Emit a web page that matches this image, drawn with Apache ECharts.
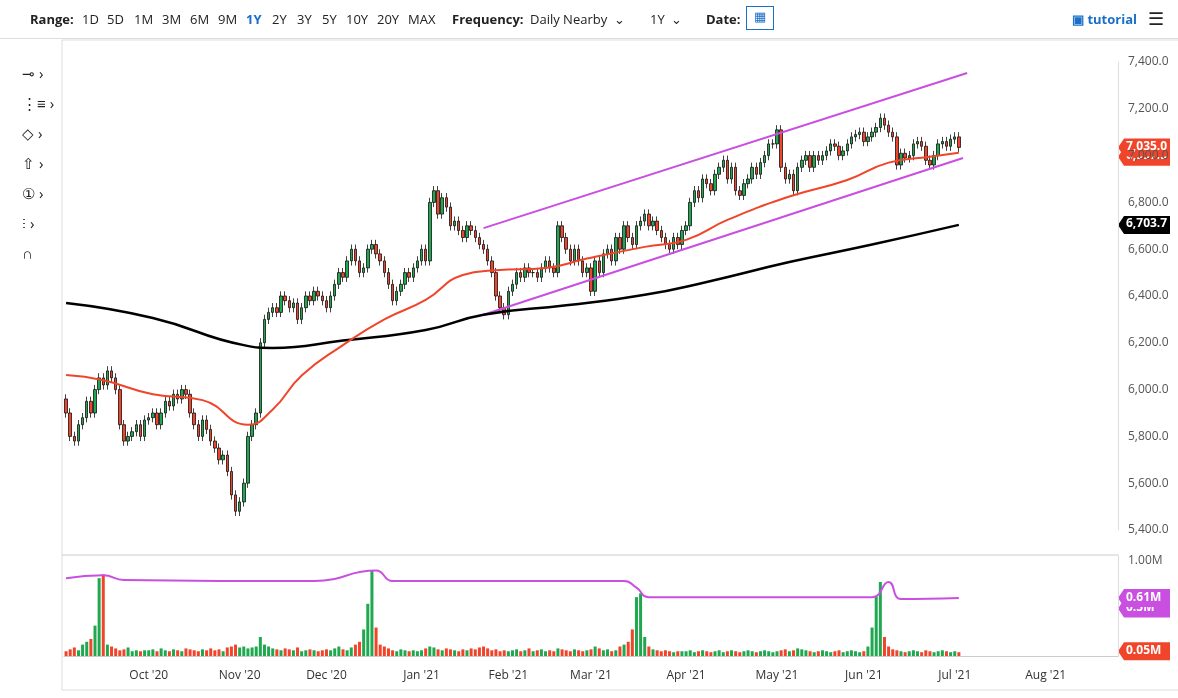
<!DOCTYPE html>
<html>
<head>
<meta charset="utf-8">
<script src="https://cdn.jsdelivr.net/npm/echarts@6/dist/echarts.min.js"></script>
<style>
body{margin:0;font-family:"Open Sans",sans-serif;background:#fff;}
#bar{position:absolute;left:0;top:0;width:1178px;height:38px;border-bottom:1px solid #ddd;font-size:13px;color:#222;}
#bar span{position:absolute;top:10px;}
#tools{position:absolute;left:22px;top:58px;font-size:15px;line-height:30px;color:#222;}
#chart{position:absolute;left:0;top:0;width:1178px;height:698px;}
</style>
</head>
<body>
<div id="chart"></div>
<div id="bar">
<span style="left:30px;font-weight:bold">Range:</span>
<span style="left:82px">1D</span><span style="left:107px">5D</span><span style="left:134px">1M</span>
<span style="left:162px">3M</span><span style="left:190px">6M</span><span style="left:218px">9M</span>
<span style="left:246px;color:#1a6fc9;font-weight:bold">1Y</span><span style="left:272px">2Y</span>
<span style="left:297px">3Y</span><span style="left:322px">5Y</span><span style="left:346px">10Y</span>
<span style="left:377px">20Y</span><span style="left:408px">MAX</span>
<span style="left:452px;font-weight:bold">Frequency:</span><span style="left:530px">Daily Nearby &nbsp;⌄</span>
<span style="left:650px">1Y &nbsp;⌄</span><span style="left:706px;font-weight:bold">Date:</span>
<span style="left:746px;top:6px;border:1px solid #1a6fc9;width:26px;height:22px;color:#1a6fc9;text-align:center">▦</span>
<span style="left:1072px;color:#1a6fc9;font-weight:bold">▣ tutorial</span>
<span style="left:1148px;font-size:18px;top:6px">☰</span>
</div>
<div id="tools">⊸ ›<br>⋮≡ ›<br>◇ ›<br>⇧ ›<br>① ›<br>⫶ ›<br>∩</div>
<script>
// closes per trading day, Sep 3 2020 .. Jul 2 2021
const closeSep = [5900,5800,5780,5850,5880,5950,5900,6000,6050,6020,6080,6050,6000,5850,5780,5800,5820,5850,5800,5870];
const closeOct = [5880,5900,5850,5900,5950,5930,5980,5960,6000,5980,5900,5850,5800,5870,5830,5780,5750,5700,5720,5650,5550,5480];
const closeNov = [5520,5600,5800,5850,5900,6200,6300,6330,6350,6330,6400,6380,6350,6370,6300,6350,6400,6380,6420,6400,6380];
const closeDec = [6350,6400,6450,6500,6480,6550,6600,6550,6500,6520,6600,6620,6580,6550,6500,6450,6380,6420,6450,6500,6480,6520,6550];
const closeJan = [6600,6550,6800,6850,6750,6820,6780,6700,6720,6680,6650,6700,6680,6650,6620,6600,6550,6500,6400,6350,6320];
const closeFeb = [6420,6450,6500,6480,6520,6500,6500,6480,6520,6550,6520,6500,6700,6650,6600,6550,6600,6550,6500,6520];
const closeMar = [6420,6550,6500,6580,6600,6550,6650,6600,6700,6650,6620,6700,6720,6750,6700,6720,6680,6650,6620,6600,6650,6620,6680];
const closeApr = [6700,6800,6850,6820,6900,6880,6850,6920,6950,6980,6900,6950,6850,6830,6880,6900,6950,6920,6970,7000,7050,7050];
const closeMay = [7110,6950,6900,6920,6850,6950,6980,7000,6950,7000,6980,7000,7020,7050,7040,7000,7020,7050,7080,7090,7100];
const closeJun = [7060,7080,7100,7120,7160,7130,7100,7080,6960,7010,6990,7000,7050,7060,7040,6980,6960,7000,7050,7060,7040,7070];
const closeJul = [7080,7035];
const firstOpen = 5960;

// volume in millions, same days
const volSep = [0.05,0.07,0.09,0.06,0.12,0.15,0.18,0.32,0.82,0.86,0.12,0.1,0.08,0.06,0.07,0.09,0.05,0.06,0.05,0.06];
const volOct = [0.06,0.07,0.05,0.08,0.06,0.05,0.07,0.06,0.05,0.08,0.07,0.06,0.05,0.07,0.06,0.08,0.06,0.07,0.05,0.09,0.1,0.12];
const volNov = [0.09,0.1,0.08,0.09,0.1,0.2,0.12,0.1,0.08,0.07,0.06,0.08,0.07,0.06,0.09,0.05,0.06,0.07,0.06,0.05,0.06];
const volDec = [0.07,0.06,0.08,0.1,0.07,0.06,0.09,0.12,0.15,0.28,0.55,0.9,0.3,0.12,0.1,0.08,0.06,0.05,0.07,0.06,0.05,0.06,0.05];
const volJan = [0.06,0.08,0.1,0.09,0.07,0.06,0.08,0.07,0.06,0.05,0.07,0.06,0.08,0.07,0.09,0.1,0.08,0.06,0.07,0.05,0.06];
const volFeb = [0.05,0.06,0.07,0.05,0.06,0.08,0.05,0.06,0.07,0.05,0.06,0.05,0.08,0.07,0.06,0.05,0.07,0.06,0.05,0.06];
const volMar = [0.07,0.1,0.08,0.06,0.07,0.05,0.06,0.1,0.12,0.15,0.28,0.62,0.66,0.2,0.1,0.07,0.06,0.05,0.06,0.05,0.04,0.05,0.05];
const volApr = [0.05,0.06,0.04,0.05,0.06,0.05,0.04,0.05,0.06,0.04,0.05,0.06,0.05,0.04,0.05,0.06,0.05,0.04,0.05,0.06,0.05,0.04];
const volMay = [0.05,0.06,0.07,0.05,0.06,0.08,0.07,0.06,0.05,0.04,0.05,0.06,0.05,0.04,0.05,0.06,0.04,0.05,0.06,0.05,0.04];
const volJun = [0.05,0.1,0.3,0.63,0.78,0.2,0.1,0.07,0.06,0.05,0.04,0.05,0.06,0.05,0.04,0.06,0.05,0.04,0.05,0.06,0.05,0.04];
const volJul = [0.05,0.04];

// moving averages read at a few days: [dayIndex, value]
const ma200Pts = [[0,6370],[21,6306],[43,6190],[50,6178],[67,6210],[87,6255],[101,6320],[121,6360],[140,6405],[155,6460],[175,6545],[195,6620],[216,6704]];
const ma50Pts = [[0,6062],[9,6040],[21,5980],[33,5955],[44,5850],[50,5915],[57,6060],[67,6190],[77,6300],[87,6383],[96,6490],[104,6510],[116,6520],[126,6560],[140,6610],[150,6640],[160,6725],[175,6825],[189,6896],[199,6970],[209,6995],[216,7012]];
const volAvgPts = [[0,0.82],[9,0.85],[14,0.8],[60,0.79],[75,0.9],[79,0.79],[135,0.79],[138,0.72],[141,0.62],[195,0.62],[199,0.78],[202,0.6],[216,0.61]];
// channel lines: [dayIndex, value]
const upperCh = [[101,6690],[218,7353]];
const lowerCh = [[101,6320],[217,6990]];

const closes = [].concat(closeSep,closeOct,closeNov,closeDec,closeJan,closeFeb,closeMar,closeApr,closeMay,closeJun,closeJul);
const vols = [].concat(volSep,volOct,volNov,volDec,volJan,volFeb,volMar,volApr,volMay,volJun,volJul);

// weekday categories up to late Aug 2021
const days = [];
for (let d = new Date(Date.UTC(2020,8,3)); d <= new Date(Date.UTC(2021,7,25)); d.setUTCDate(d.getUTCDate()+1)) {
    if (d.getUTCDay() !== 0 && d.getUTCDay() !== 6) days.push(d.toISOString().slice(0,10));
}
const monNames = ['Jan','Feb','Mar','Apr','May','Jun','Jul','Aug','Sep','Oct','Nov','Dec'];

const candles = closes.map((c,i) => {
    const o = i === 0 ? firstOpen : closes[i-1];
    return [o, c, Math.min(o,c) - 20, Math.max(o,c) + 20];
});
const volData = vols.map((v,i) => ({value: v, itemStyle: {color: candles[i][1] >= candles[i][0] ? '#1fa84f' : '#f0452a'}}));

function sparse(pts) {
    const arr = new Array(days.length).fill(null);
    pts.forEach(p => arr[p[0]] = p[1]);
    return arr;
}

const chart = echarts.init(document.getElementById('chart'));
const option = {
    animation: false,
    textStyle: {fontFamily: 'Open Sans'},
    grid: [
        {left: 64, right: 60, top: 62, height: 468},
        {left: 64, right: 60, top: 555, height: 101}
    ],
    xAxis: [
        {type: 'category', data: days, gridIndex: 0, axisLabel: {show: false}, axisTick: {show: false}, axisLine: {show: false}},
        {type: 'category', data: days, gridIndex: 1, axisTick: {show: false},
         axisLine: {lineStyle: {color: '#ccc'}},
         axisLabel: {color: '#333', fontSize: 12, margin: 14,
            interval: (i, v) => i > 0 && v.slice(5,7) !== days[i-1].slice(5,7),
            formatter: v => monNames[+v.slice(5,7)-1] + " '" + v.slice(2,4)}}
    ],
    yAxis: [
        {gridIndex: 0, position: 'right', min: 5400, max: 7400, interval: 200, splitLine: {show: false},
         axisLine: {show: true, lineStyle: {color: '#ddd'}}, axisTick: {show: false},
         axisLabel: {color: '#555', fontSize: 12, margin: 10, formatter: v => v.toLocaleString('en-US') + '.0'}},
        {gridIndex: 1, position: 'right', min: 0, max: 1.064, splitLine: {show: false},
         axisLine: {show: true, lineStyle: {color: '#ddd'}}, axisTick: {show: false}, axisLabel: {show: false}}
    ],
    series: [
        {type: 'line', data: sparse(upperCh), connectNulls: true, symbol: 'none', lineStyle: {color: '#c94fe0', width: 2}},
        {type: 'line', data: sparse(lowerCh), connectNulls: true, symbol: 'none', lineStyle: {color: '#c94fe0', width: 2}},
        {type: 'line', data: sparse(ma200Pts), connectNulls: true, smooth: true, symbol: 'none', lineStyle: {color: '#000', width: 2.5}},
        {type: 'line', data: sparse(ma50Pts), connectNulls: true, smooth: true, symbol: 'none', lineStyle: {color: '#f0452a', width: 2}},
        {type: 'candlestick', data: candles, barWidth: 3,
         itemStyle: {color: '#1fa84f', color0: '#f0452a', borderColor: '#111', borderColor0: '#111', borderWidth: 0.8}},
        {type: 'bar', xAxisIndex: 1, yAxisIndex: 1, data: volData, barWidth: 3},
        {type: 'line', xAxisIndex: 1, yAxisIndex: 1, data: sparse(volAvgPts), connectNulls: true, smooth: true, symbol: 'none', lineStyle: {color: '#c94fe0', width: 2}}
    ]
};
chart.setOption(option);

function tag(val, yi, text, bg, fg) {
    const y = chart.convertToPixel({yAxisIndex: yi}, val);
    return {type: 'group', x: 1118, y: y, children: [
        {type: 'polygon', shape: {points: [[0,0],[6,-9],[52,-9],[52,9],[6,9]]}, style: {fill: bg}},
        {type: 'text', x: 8, y: -7, style: {text: text, fill: fg, font: 'bold 12px Open Sans'}}
    ]};
}
chart.setOption({graphic: [
    {type: 'line', shape: {x1: 62, y1: 40, x2: 1178, y2: 40}, style: {stroke: '#ddd'}},
    {type: 'line', shape: {x1: 62, y1: 40, x2: 62, y2: 690}, style: {stroke: '#ddd'}},
    {type: 'line', shape: {x1: 62, y1: 555, x2: 1118, y2: 555}, style: {stroke: '#ccc'}},
    {type: 'line', shape: {x1: 62, y1: 690, x2: 1178, y2: 690}, style: {stroke: '#ddd'}},
    tag(6995, 0, '6,997.5', '#f0452a', '#fff'),
    tag(7035, 0, '7,035.0', '#f0452a', '#fff'),
    tag(6703.7, 0, '6,703.7', '#000', '#fff'),
    {type: 'text', x: 1128, y: 555, style: {text: '1.00M', fill: '#555', font: '12px Open Sans'}},
    tag(0.5, 1, '0.5M', '#c94fe0', '#fff'),
    tag(0.61, 1, '0.61M', '#c94fe0', '#fff'),
    tag(0.05, 1, '0.05M', '#f0452a', '#fff')
]});
</script>
</body>
</html>
